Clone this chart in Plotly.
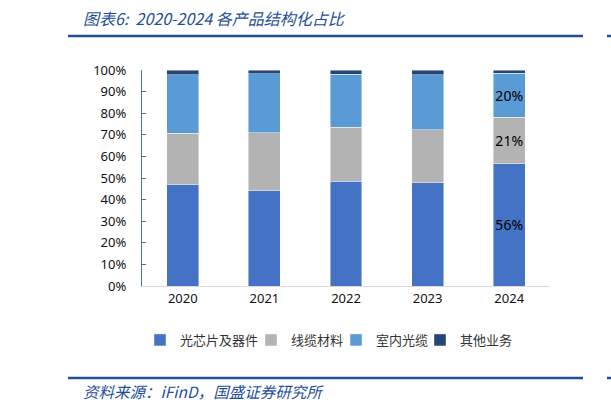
import plotly.graph_objects as go

years = ["2020", "2021", "2022", "2023", "2024"]
series_names = ["光芯片及器件", "线缆材料", "室内光缆", "其他业务"]
chip = [46.8, 44.1, 48.6, 47.7, 56.5]
cable_mat = [23.9, 26.9, 25.0, 24.7, 21.6]
indoor = [27.1, 27.3, 24.4, 25.4, 20.5]
other = [2.2, 1.7, 2.0, 2.2, 1.4]
label_chip = ["", "", "", "", "56%"]
label_cable = ["", "", "", "", "21%"]
label_indoor = ["", "", "", "", "20%"]
colors = ["#4472C4", "#B3B3B3", "#5B9BD5", "#264478"]

W, H = 611, 410
L, R, T, B = 142, 550, 70, 286
pw, ph = R - L, B - T

def px(x):
    return (x - L) / pw

def py(y):
    return (B - y) / ph

legend_ids = ["legend", "legend2", "legend3", "legend4"]
legend_sq_left = [157, 268, 353, 437]

fig = go.Figure()
vals = [chip, cable_mat, indoor, other]
labels = [label_chip, label_cable, label_indoor, None]
for name, v, c, lab, lg in zip(series_names, vals, colors, labels, legend_ids):
    fig.add_trace(go.Bar(
        x=years, y=v, name=name, legend=lg,
        marker=dict(color=c, line=dict(color="rgba(255,255,255,0.55)", width=0.8)),
        text=lab if lab else None,
        textposition="inside" if lab else None,
        insidetextanchor="middle",
        textangle=0,
        constraintext="none",
        textfont=dict(size=14, color="#000000", family="Noto Sans, Noto Sans CJK SC"),
        hoverinfo="skip",
    ))

font_main = "Noto Sans, Noto Sans CJK SC, sans-serif"
blue = "#1E4E9C"

layout_legends = {}
for lg, sx in zip(legend_ids, legend_sq_left):
    layout_legends[lg] = dict(
        orientation="h", xref="container", yref="container",
        x=(sx - 17) / W, xanchor="left", y=1 - 340 / H, yanchor="middle",
        font=dict(size=13, color="#333333", family="Noto Sans CJK SC, sans-serif"),
        itemwidth=30, bgcolor="rgba(0,0,0,0)", borderwidth=0)

fig.update_layout(
    width=W, height=H,
    margin=dict(l=L, r=W - R, t=T, b=H - B, pad=0, autoexpand=False),
    barmode="stack",
    bargap=0.61,
    plot_bgcolor="white", paper_bgcolor="white",
    font=dict(family=font_main, size=13, color="#222222"),
    showlegend=True,
    xaxis=dict(showline=True, linecolor="#D9D9D9", linewidth=1, ticks="",
               showgrid=False, tickfont=dict(size=13, color="#111111")),
    yaxis=dict(range=[0, 100], tickvals=[0, 10, 20, 30, 40, 50, 60, 70, 80, 90, 100],
               ticktext=["0%", "10%", "20%", "30%", "40%", "50%", "60%", "70%", "80%", "90%", "100%"],
               showline=True, linecolor="#4472C4", linewidth=1.2,
               ticks="inside", ticklen=4, tickcolor="#4472C4", tickwidth=1.2,
               showgrid=False, zeroline=False, ticklabelstandoff=12,
               tickfont=dict(size=13, color="#111111")),
    **layout_legends,
)

# title
fig.add_annotation(text="图表6:  2020-2024 各产品结构化占比", xref="paper", yref="paper",
                   x=px(81), y=py(18), xanchor="left", yanchor="middle", showarrow=False,
                   font=dict(size=16, color=blue, family="Noto Sans CJK SC, sans-serif", style="italic"))
# source
fig.add_annotation(text="资料来源：iFinD，国盛证券研究所", xref="paper", yref="paper",
                   x=px(81), y=py(391), xanchor="left", yanchor="middle", showarrow=False,
                   font=dict(size=15.5, color=blue, family="Noto Sans CJK SC, sans-serif", style="italic"))

for yy in (36, 378):
    fig.add_shape(type="line", xref="paper", yref="paper", x0=px(68), x1=px(583),
                  y0=py(yy), y1=py(yy), line=dict(color=blue, width=2.5))
    fig.add_shape(type="line", xref="paper", yref="paper", x0=px(607), x1=px(611),
                  y0=py(yy), y1=py(yy), line=dict(color=blue, width=2.5))

fig.write_html("out.html", config={"displayModeBar": False},
               post_script="document.body.style.margin='0';document.body.style.overflow='hidden';")
